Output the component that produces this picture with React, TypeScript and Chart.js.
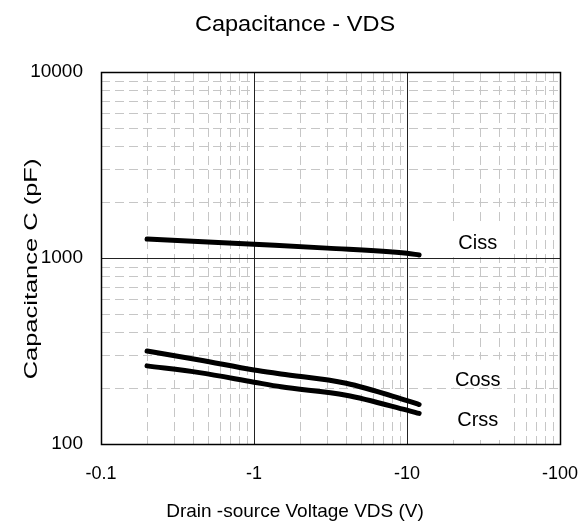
import { useEffect, useRef } from "react";
import { Chart, registerables } from "chart.js";

Chart.register(...registerables);

// ---- data ----
const cissV = [0.2, 0.5, 1, 3, 10, 12];
const cissC = [1265, 1220, 1185, 1130, 1060, 1038];
const cossV = [0.2, 0.44, 1, 1.5, 4, 10, 12];
const cossC = [316, 283, 250, 238, 212, 171, 163];
const crssV = [0.2, 0.44, 1, 1.5, 4, 10, 12];
const crssC = [263, 242, 215, 203, 183, 152, 146];
const xTicks = [0.1, 1, 10, 100];
const xTickLabels = ["-0.1", "-1", "-10", "-100"];
const yTicks = [100, 1000, 10000];
const seriesNames = ["Ciss", "Coss", "Crss"];
const labelAtV = 29;
const labelAtC = [1118, 206, 125];

const titleText = "Capacitance - VDS";
const xTitleText = "Drain -source Voltage VDS (V)";
const yTitleText = "Capacitance C (pF)";

// ---- styles ----
const FONT = '"Liberation Sans", Arial, sans-serif';
const TITLE_CX = 295;
const labelBoxes = [
  [-24, 8],
  [-26, 2],
  [-33, 14],
];

const toPts = (xs: number[], ys: number[]) => xs.map((x, i) => ({ x, y: ys[i] }));

const decadeMinors = (decades: number[]) => {
  const out: number[] = [];
  decades.forEach((d) => {
    for (let k = 2; k <= 9; k++) out.push(k * d);
  });
  return out;
};

const drawPlugin = {
  id: "customDraw",
  beforeDatasetsDraw(chart: any) {
    const { ctx, chartArea: a, scales } = chart;
    const x = scales.x;
    const y = scales.y;
    ctx.save();
    // minor grid
    ctx.lineWidth = 1;
    ctx.strokeStyle = "#c6c6c6";
    ctx.setLineDash([9, 5]);
    decadeMinors([0.1, 1, 10]).forEach((v) => {
      const px = Math.round(x.getPixelForValue(v)) + 0.5;
      ctx.beginPath();
      ctx.moveTo(px, a.top);
      ctx.lineTo(px, a.bottom);
      ctx.stroke();
    });
    decadeMinors([100, 1000]).forEach((v) => {
      const py = Math.round(y.getPixelForValue(v)) + 0.5;
      ctx.beginPath();
      ctx.moveTo(a.left, py);
      ctx.lineTo(a.right, py);
      ctx.stroke();
    });
    ctx.setLineDash([]);
    // major grid
    ctx.strokeStyle = "#222";
    ctx.lineWidth = 1;
    xTicks.slice(1, -1).forEach((v) => {
      const px = Math.round(x.getPixelForValue(v)) + 0.5;
      ctx.beginPath();
      ctx.moveTo(px, a.top);
      ctx.lineTo(px, a.bottom);
      ctx.stroke();
    });
    yTicks.slice(1, -1).forEach((v) => {
      const py = Math.round(y.getPixelForValue(v)) + 0.5;
      ctx.beginPath();
      ctx.moveTo(a.left, py);
      ctx.lineTo(a.right, py);
      ctx.stroke();
    });
    // labels with white boxes
    ctx.font = `20px ${FONT}`;
    ctx.textAlign = "center";
    ctx.textBaseline = "alphabetic";
    seriesNames.forEach((name, i) => {
      const cx = x.getPixelForValue(labelAtV);
      const by = y.getPixelForValue(labelAtC[i]);
      const [t, b] = labelBoxes[i];
      ctx.fillStyle = "#fff";
      ctx.fillRect(cx - 25, by + t, 50, b - t);
      ctx.fillStyle = "#000";
      ctx.fillText(name, cx, by);
    });
    ctx.restore();
  },
  afterDatasetsDraw(chart: any) {
    const { ctx, chartArea: a } = chart;
    ctx.save();
    ctx.strokeStyle = "#000";
    ctx.lineWidth = 1.5;
    ctx.strokeRect(a.left + 0.5, a.top + 0.5, a.right - a.left, a.bottom - a.top);
    ctx.restore();
  },
  afterDraw(chart: any) {
    const { ctx, chartArea: a } = chart;
    ctx.save();
    ctx.fillStyle = "#000";
    ctx.textAlign = "center";
    ctx.textBaseline = "alphabetic";
    // title
    ctx.save();
    ctx.translate(TITLE_CX, 31);
    ctx.scale(1.07, 1);
    ctx.font = `22px ${FONT}`;
    ctx.fillText(titleText, 0, 0);
    ctx.restore();
    // x title
    ctx.font = `19px ${FONT}`;
    ctx.fillText(xTitleText, TITLE_CX, 517);
    // y title
    ctx.save();
    ctx.translate(37, (a.top + a.bottom) / 2 + 11);
    ctx.rotate(-Math.PI / 2);
    ctx.scale(1.34, 1);
    ctx.font = `19px ${FONT}`;
    ctx.fillText(yTitleText, 0, 0);
    ctx.restore();
    ctx.restore();
  },
};

export default function App() {
  const ref = useRef<HTMLCanvasElement | null>(null);
  useEffect(() => {
    if (!ref.current) return;
    const lineStyle = {
      borderColor: "#000",
      backgroundColor: "#000",
      borderWidth: 5,
      pointRadius: 0,
      fill: false,
      cubicInterpolationMode: "monotone" as const,
      borderCapStyle: "round" as const,
      borderJoinStyle: "round" as const,
    };
    const chart = new Chart(ref.current, {
      type: "line",
      data: {
        datasets: [
          { label: seriesNames[0], data: toPts(cissV, cissC), ...lineStyle },
          { label: seriesNames[1], data: toPts(cossV, cossC), ...lineStyle },
          { label: seriesNames[2], data: toPts(crssV, crssC), ...lineStyle },
        ],
      },
      options: {
        responsive: false,
        animation: false,
        layout: { padding: { top: 72, right: 24, bottom: 0, left: 0 } },
        plugins: {
          legend: { display: false },
          tooltip: { enabled: false },
          title: { display: false },
        },
        scales: {
          x: {
            type: "logarithmic",
            min: 0.1,
            max: 100,
            grid: { display: false, drawTicks: false },
            border: { display: false },
            afterBuildTicks: (s: any) => {
              s.ticks = xTicks.map((v) => ({ value: v }));
            },
            afterFit: (s: any) => {
              s.height = 81;
              s.paddingLeft = 0;
              s.paddingRight = 0;
            },
            ticks: {
              autoSkip: false,
              maxRotation: 0,
              padding: 19,
              color: "#000",
              font: { family: FONT, size: 18 },
              callback: (_v: any, i: number) => xTickLabels[i],
            },
          },
          y: {
            type: "logarithmic",
            min: 100,
            max: 10000,
            grid: { display: false, drawTicks: false },
            border: { display: false },
            afterBuildTicks: (s: any) => {
              s.ticks = yTicks.map((v) => ({ value: v }));
            },
            afterFit: (s: any) => {
              s.width = 101;
              s.paddingTop = 0;
              s.paddingBottom = 0;
            },
            ticks: {
              autoSkip: false,
              padding: 18,
              color: "#000",
              font: { family: FONT, size: 19 },
              callback: (_v: any, i: number) => String(yTicks[i]),
            },
          },
        },
      },
      plugins: [drawPlugin],
    });
    return () => chart.destroy();
  }, []);
  return (
    <div style={{ position: "absolute", left: 0, top: 0, width: 584, height: 525, background: "#fff" }}>
      <canvas ref={ref} width={584} height={525} style={{ display: "block" }} />
    </div>
  );
}
